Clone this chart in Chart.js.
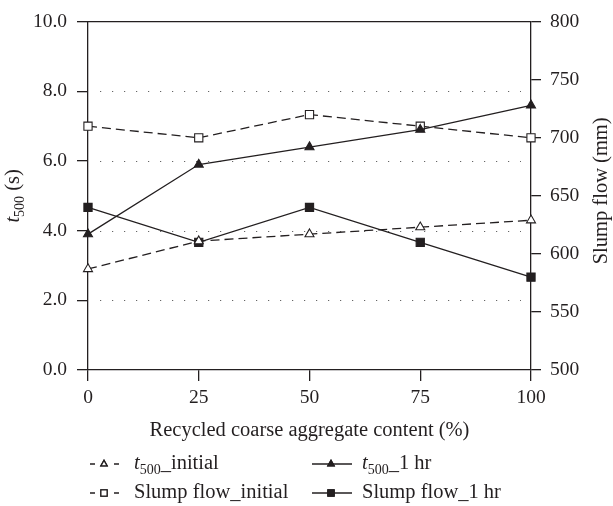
<!DOCTYPE html>
<html>
<head>
<meta charset="utf-8">
<script src="https://cdn.jsdelivr.net/npm/chart.js@4/dist/chart.umd.min.js"></script>
<style>
    html, body { margin: 0; padding: 0; background: #fff; }
    #wrap { width: 613px; height: 506px; position: relative; }
</style>
</head>
<body>
<div id="wrap"><canvas id="chart"></canvas></div>
<script>
// data
const contents = [0, 25, 50, 75, 100]
const t500Initial = [2.9, 3.7, 3.9, 4.1, 4.3]
const t500OneHr = [3.9, 5.9, 6.4, 6.9, 7.6]
const slumpInitial = [710, 700, 720, 710, 700]
const slumpOneHr = [640, 610, 640, 610, 580]
const gridValues = [2, 4, 6, 8]

const FONT = "'Liberation Serif', 'DejaVu Serif', serif"
const INK = "#231f20"
const TXT = "20.5px " + FONT

// draws a label that may contain a "t500" with italic t and subscript
function drawRichText(ctx, parts, x, y) {
    let cx = x
    parts.forEach(p => {
        ctx.font = p.font
        ctx.fillText(p.text, cx, y + (p.dy || 0))
        cx += ctx.measureText(p.text).width
    })
    return cx - x
}

function richWidth(ctx, parts) {
    let w = 0
    parts.forEach(p => {
        ctx.font = p.font
        w += ctx.measureText(p.text).width
    })
    return w
}

function t500Parts(rest) {
    return [
        { text: "t", font: "italic 20.5px " + FONT },
        { text: "500", font: "14px " + FONT, dy: 5 },
        { text: rest, font: TXT }
    ]
}

const decorPlugin = {
    id: "decor",
    beforeDatasetsDraw(chart) {
        const ctx = chart.ctx
        const area = chart.chartArea
        const y = chart.scales.y
        ctx.save()
        // dotted grid, inset from the axes
        ctx.strokeStyle = "#666"
        ctx.lineWidth = 1.2
        ctx.setLineDash([1.2, 10.8])
        gridValues.forEach(v => {
            const py = Math.round(y.getPixelForValue(v)) + 0.5
            ctx.beginPath()
            ctx.moveTo(area.left + 12, py)
            ctx.lineTo(area.right - 10, py)
            ctx.stroke()
        })
        ctx.setLineDash([])
        // top frame line
        ctx.strokeStyle = INK
        ctx.lineWidth = 1.3
        ctx.beginPath()
        ctx.moveTo(area.left, area.top)
        ctx.lineTo(area.right, area.top)
        ctx.stroke()
        ctx.restore()
    },
    afterDraw(chart) {
        const ctx = chart.ctx
        const area = chart.chartArea
        const midY = (area.top + area.bottom) / 2
        ctx.save()
        ctx.fillStyle = INK
        ctx.textBaseline = "alphabetic"

        // x title
        ctx.font = TXT
        ctx.textAlign = "center"
        ctx.fillText("Recycled coarse aggregate content (%)", (area.left + area.right) / 2, 436)
        ctx.textAlign = "left"

        // left title, rotated
        const leftParts = t500Parts(" (s)")
        ctx.save()
        ctx.translate(19, midY)
        ctx.rotate(-Math.PI / 2)
        drawRichText(ctx, leftParts, -richWidth(ctx, leftParts) / 2, 0)
        ctx.restore()

        // right title, rotated
        ctx.save()
        ctx.translate(607, midY - 5)
        ctx.rotate(-Math.PI / 2)
        ctx.font = TXT
        ctx.textAlign = "center"
        ctx.fillText("Slump flow (mm)", 0, 0)
        ctx.restore()

        // legend
        const items = [
            { ds: 0, x: 88, y: 464, parts: t500Parts("_initial") },
            { ds: 1, x: 312, y: 464, parts: t500Parts("_1 hr") },
            { ds: 2, x: 88, y: 493, parts: [{ text: "Slump flow_initial", font: TXT }] },
            { ds: 3, x: 312, y: 493, parts: [{ text: "Slump flow_1 hr", font: TXT }] }
        ]
        items.forEach(it => {
            const ds = chart.data.datasets[it.ds]
            ctx.strokeStyle = INK
            ctx.lineWidth = 1.3
            ctx.beginPath()
            let mx
            if (ds.borderDash.length) {
                ctx.moveTo(it.x + 2, it.y); ctx.lineTo(it.x + 7, it.y)
                ctx.moveTo(it.x + 26, it.y); ctx.lineTo(it.x + 31, it.y)
                mx = it.x + 16
            } else {
                ctx.moveTo(it.x, it.y); ctx.lineTo(it.x + 40, it.y)
                mx = it.x + 19
            }
            ctx.stroke()
            Chart.helpers.drawPoint(ctx, {
                pointStyle: ds.pointStyle,
                radius: ds.pointStyle === "rect" ? 4.4 : 3.6,
                borderWidth: 1.1
            }, mx, it.y)
            ctx.fillStyle = ds.pointBackgroundColor
            ctx.fill()
            ctx.stroke()
            ctx.fillStyle = INK
            const tx = ds.borderDash.length ? 134 : 362
            drawRichText(ctx, it.parts, tx, it.y + 5)
        })
        ctx.restore()
    }
}

const tickFont = { family: FONT, size: 19.5 }

new Chart(document.getElementById("chart"), {
    type: "line",
    data: {
        labels: contents,
        datasets: [
            {
                label: "t500_initial", data: t500Initial, yAxisID: "y",
                borderColor: INK, borderWidth: 1.3, borderDash: [9, 5],
                pointStyle: "triangle", pointRadius: 5.2, pointBorderWidth: 1.1,
                pointBorderColor: INK, pointBackgroundColor: "#fff"
            },
            {
                label: "t500_1 hr", data: t500OneHr, yAxisID: "y",
                borderColor: INK, borderWidth: 1.3, borderDash: [],
                pointStyle: "triangle", pointRadius: 5.2, pointBorderWidth: 1.1,
                pointBorderColor: INK, pointBackgroundColor: INK
            },
            {
                label: "Slump flow_initial", data: slumpInitial, yAxisID: "y2",
                borderColor: INK, borderWidth: 1.3, borderDash: [9, 5],
                pointStyle: "rect", pointRadius: 5.8, pointBorderWidth: 1.1,
                pointBorderColor: INK, pointBackgroundColor: "#fff"
            },
            {
                label: "Slump flow_1 hr", data: slumpOneHr, yAxisID: "y2",
                borderColor: INK, borderWidth: 1.3, borderDash: [],
                pointStyle: "rect", pointRadius: 5.8, pointBorderWidth: 1.1,
                pointBorderColor: INK, pointBackgroundColor: INK
            }
        ]
    },
    options: {
        responsive: true,
        maintainAspectRatio: false,
        animation: false,
        layout: { padding: { top: 16, left: 0, right: 0, bottom: 0 } },
        plugins: { legend: { display: false }, tooltip: { enabled: false } },
        scales: {
            x: {
                type: "category",
                offset: false,
                grid: { drawOnChartArea: false, drawTicks: true, tickLength: 11, color: INK, lineWidth: 1.3, offset: false },
                border: { display: true, color: INK, width: 1.3 },
                ticks: { font: tickFont, color: INK, padding: 5, maxRotation: 0 },
                afterFit: s => { s.height = 136 }
            },
            y: {
                position: "left",
                min: 0, max: 10,
                grid: { drawOnChartArea: false, drawTicks: true, tickLength: 11, color: INK, lineWidth: 1.3 },
                border: { display: true, color: INK, width: 1.3 },
                ticks: { stepSize: 2, font: tickFont, color: INK, padding: 10, callback: v => v.toFixed(1) },
                afterFit: s => { s.width = 88 }
            },
            y2: {
                position: "right",
                min: 500, max: 800,
                grid: { drawOnChartArea: false, drawTicks: true, tickLength: 10, color: INK, lineWidth: 1.3 },
                border: { display: true, color: INK, width: 1.3 },
                ticks: { stepSize: 50, font: tickFont, color: INK, padding: 9 },
                afterFit: s => { s.width = 82 }
            }
        }
    },
    plugins: [decorPlugin]
});
</script>
</body>
</html>
